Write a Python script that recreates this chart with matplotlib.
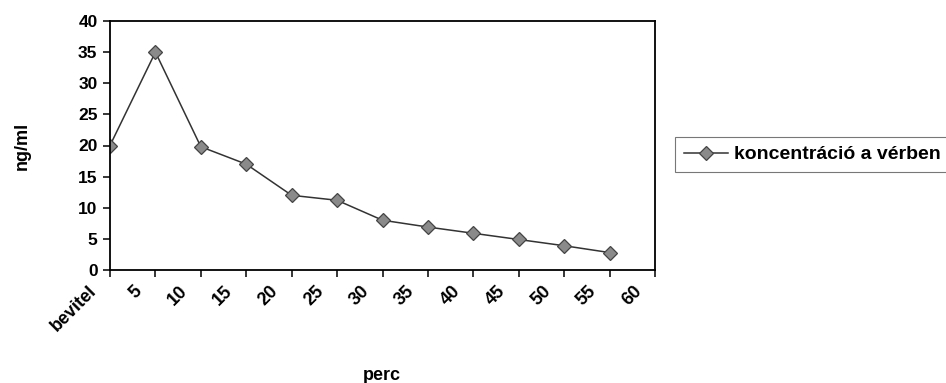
import numpy as np
import matplotlib
matplotlib.use("Agg")
import matplotlib.pyplot as plt
import matplotlib.transforms as mtransforms

categories = ["bevitel", "5", "10", "15", "20", "25", "30", "35", "40", "45", "50", "55", "60"]
values = [20, 35, 19.8, 17, 12, 11.2, 8, 6.9, 5.9, 4.9, 3.9, 2.8, None]
series_name = "koncentráció a vérben"
y_ticks = [0, 5, 10, 15, 20, 25, 30, 35, 40]

plt.rcParams['font.family'] = ['Liberation Sans', 'DejaVu Sans']
plt.rcParams['font.weight'] = 'bold'

fig = plt.figure(figsize=(9.46, 3.83), dpi=100)
ax = fig.add_axes([110/946, 1-270/383, (655-110)/946, (270-21)/383])

x = np.arange(len(categories))
y = np.array([np.nan if v is None else v for v in values], dtype=float)
ax.plot(x, y, color='#333333', linewidth=1.1, marker='D', markersize=7,
        markerfacecolor='#8a8a8a', markeredgecolor='#444444', markeredgewidth=0.9,
        label=series_name)

ax.set_xlim(0, len(categories) - 1)
ax.set_ylim(0, 40)
ax.tick_params(axis='both', direction='out', length=5, width=1.1, color='black')
ax.tick_params(axis='x', pad=4)
ax.tick_params(axis='y', pad=4)
ax.set_yticks(y_ticks)
ax.set_yticklabels([str(t) for t in y_ticks], fontsize=12.5, fontweight='bold')
ax.set_xticks(x)
ax.set_xticklabels(categories, rotation=45, ha='right', va='top', fontsize=13, fontweight='bold')
offset = mtransforms.ScaledTranslation(-10/100, 0, fig.dpi_scale_trans)
for lab in ax.get_xticklabels():
    lab.set_transform(lab.get_transform() + offset)

for s in ax.spines.values():
    s.set_linewidth(1.3)
    s.set_color('black')

ax.set_ylabel("ng/ml", fontsize=13, fontweight='bold')
ax.yaxis.set_label_coords(-79/545, 0.5)
ax.set_xlabel("perc", fontsize=13, fontweight='bold')
ax.xaxis.set_label_coords(0.498, -97/249)

leg = fig.legend(loc='upper left', bbox_to_anchor=(675/946, 1-137/383), frameon=True,
                 fancybox=False, edgecolor='#555555', fontsize=14, handlelength=2.3,
                 borderpad=0.45, handletextpad=0.3, borderaxespad=0)
leg.get_frame().set_linewidth(0.8)
for t in leg.get_texts():
    t.set_fontweight('bold')

fig.savefig("out.png", dpi=100)
